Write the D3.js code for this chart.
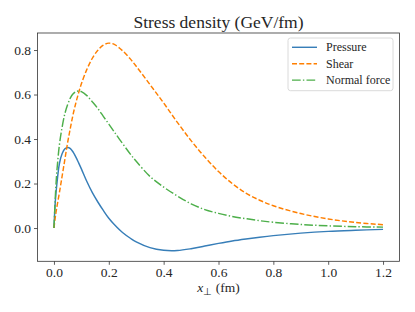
<!DOCTYPE html>
<html>
<head>
<meta charset="utf-8">
<script src="https://cdn.jsdelivr.net/npm/d3@7"></script>
<style>
  html, body { margin: 0; padding: 0; background: #fff; }
  svg { display: block; }
  text { font-family: "Liberation Serif", "Times New Roman", serif; fill: #262626; }
</style>
</head>
<body>
<svg id="chart" width="415" height="312"></svg>
<script>
// ---- data ----
const xValues = [0, 0.005, 0.01, 0.02, 0.03, 0.04, 0.05, 0.06, 0.07, 0.08, 0.09, 0.1,
  0.12, 0.14, 0.16, 0.18, 0.2, 0.22, 0.25, 0.28, 0.3, 0.35, 0.4, 0.45, 0.5, 0.55,
  0.6, 0.65, 0.7, 0.75, 0.8, 0.9, 1.0, 1.1, 1.2];
const pressure = [0, 0.12, 0.19, 0.29, 0.335, 0.356, 0.362, 0.357, 0.341, 0.319, 0.293, 0.266,
  0.209, 0.159, 0.117, 0.079, 0.044, 0.016, -0.020, -0.047, -0.062, -0.088, -0.100, -0.101, -0.093, -0.081,
  -0.069, -0.058, -0.049, -0.041, -0.034, -0.023, -0.015, -0.010, -0.006];
const shear = [0, 0.05, 0.09, 0.16, 0.235, 0.31, 0.385, 0.45, 0.512, 0.563, 0.608, 0.648,
  0.713, 0.763, 0.799, 0.822, 0.831, 0.825, 0.797, 0.758, 0.727, 0.645, 0.562, 0.475, 0.393, 0.319,
  0.254, 0.200, 0.157, 0.125, 0.100, 0.065, 0.041, 0.025, 0.015];
const normalForce = [0, 0.14, 0.245, 0.375, 0.455, 0.515, 0.555, 0.585, 0.603, 0.613, 0.616, 0.613,
  0.595, 0.567, 0.537, 0.502, 0.467, 0.432, 0.38, 0.33, 0.30, 0.232, 0.184, 0.144, 0.109, 0.083,
  0.066, 0.052, 0.042, 0.033, 0.026, 0.016, 0.010, 0.006, 0.004];
const seriesNames = ["Pressure", "Shear", "Normal force"];
const xTicks = [0, 0.2, 0.4, 0.6, 0.8, 1.0, 1.2];
const yTicks = [0, 0.2, 0.4, 0.6, 0.8];
const titleText = "Stress density (GeV/fm)";

// ---- layout ----
const svg = d3.select("#chart");
const plot = { left: 37.5, right: 399.5, top: 33, bottom: 261.3 };
const x = d3.scaleLinear().domain([-0.06, 1.26]).range([plot.left, plot.right]);
const y = d3.scaleLinear().domain([-0.1495, 0.8765]).range([plot.bottom, plot.top]);

const styles = [
  { color: "#377eb8", dash: null },
  { color: "#ff7f00", dash: "5,2.2" },
  { color: "#4daf4a", dash: "8.7,2.2,1.4,2.2" }
];
const seriesData = [pressure, shear, normalForce];
const serif = "'Liberation Serif', 'Times New Roman', serif";

// title
svg.append("text")
  .attr("x", (plot.left + plot.right) / 2)
  .attr("y", 28)
  .attr("text-anchor", "middle")
  .style("font-size", "17.5px")
  .text(titleText);

// axes
const xAxis = svg.append("g")
  .attr("transform", `translate(0,${plot.bottom})`)
  .call(d3.axisBottom(x).tickValues(xTicks).tickFormat(d3.format(".1f")).tickSize(3.5).tickPadding(3));
const yAxis = svg.append("g")
  .attr("transform", `translate(${plot.left},0)`)
  .call(d3.axisLeft(y).tickValues(yTicks).tickFormat(d3.format(".1f")).tickSize(3.5).tickPadding(3));
[xAxis, yAxis].forEach(g => {
  g.attr("font-family", serif).attr("font-size", 13.5);
  g.select(".domain").remove();
  g.selectAll(".tick line").attr("stroke", "#333").attr("stroke-width", 0.8);
  g.selectAll(".tick text").style("font-size", "13.5px").attr("fill", "#262626")
    .style("font-family", serif);
});

// clip
svg.append("defs").append("clipPath").attr("id", "clip")
  .append("rect").attr("x", plot.left).attr("y", plot.top)
  .attr("width", plot.right - plot.left).attr("height", plot.bottom - plot.top);

const line = d3.line().curve(d3.curveCatmullRom.alpha(0.5))
  .x((d, i) => x(xValues[i])).y(d => y(d));

const lines = svg.append("g").attr("clip-path", "url(#clip)");
seriesData.forEach((s, k) => {
  lines.append("path")
    .attr("d", line(s))
    .attr("fill", "none")
    .attr("stroke", styles[k].color)
    .attr("stroke-width", 1.45)
    .attr("stroke-dasharray", styles[k].dash);
});

// frame
svg.append("rect")
  .attr("x", plot.left).attr("y", plot.top)
  .attr("width", plot.right - plot.left).attr("height", plot.bottom - plot.top)
  .attr("fill", "none").attr("stroke", "#333").attr("stroke-width", 0.8);

// x label
const xl = svg.append("text")
  .attr("x", (plot.left + plot.right) / 2)
  .attr("y", 292)
  .attr("text-anchor", "middle")
  .style("font-size", "13.5px");
xl.append("tspan").style("font-style", "italic").text("x");
xl.append("tspan").attr("dy", 2.5).style("font-size", "9.5px").text("⊥");
xl.append("tspan").attr("dy", -2.5).text(" (fm)");

// legend
const leg = svg.append("g");
leg.append("rect")
  .attr("x", 288).attr("y", 38).attr("width", 105).attr("height", 52.7)
  .attr("rx", 2.5).attr("fill", "#fff").attr("fill-opacity", 0.8)
  .attr("stroke", "#d0d0d0").attr("stroke-width", 0.8);
seriesNames.forEach((name, k) => {
  const cy = 47.3 + k * 16.4;
  leg.append("line")
    .attr("x1", 292).attr("x2", 317).attr("y1", cy).attr("y2", cy)
    .attr("stroke", styles[k].color).attr("stroke-width", 1.45)
    .attr("stroke-dasharray", styles[k].dash);
  leg.append("text")
    .attr("x", 326).attr("y", cy + 4)
    .style("font-size", "12px")
    .text(name);
});
</script>
</body>
</html>
